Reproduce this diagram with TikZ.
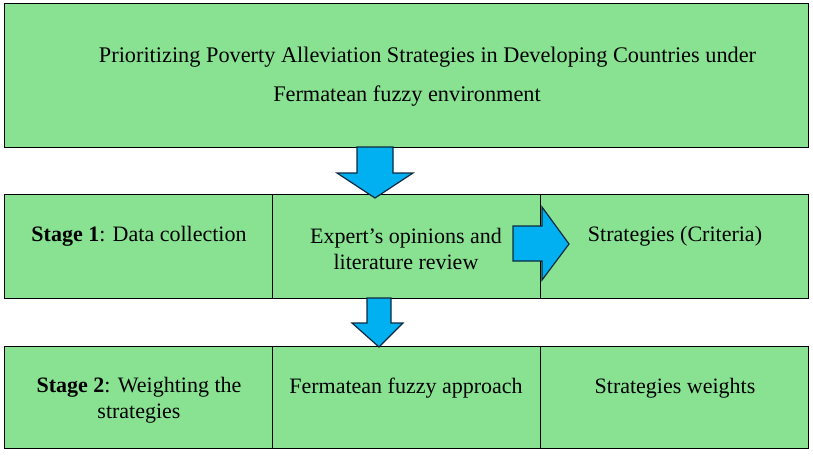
\documentclass[tikz,border=0pt]{standalone}
\usepackage{fontspec}
\setmainfont{Liberation Serif}
\definecolor{boxgreen}{HTML}{88E291}
\definecolor{arrowblue}{HTML}{00B0F0}
\definecolor{arrowedge}{HTML}{0B2A3F}
\begin{document}
\begin{tikzpicture}[x=1pt,y=-1pt,
  cell/.style={draw=black,line width=0.8pt,fill=boxgreen},
  lbl/.style={font=\fontsize{22}{26}\selectfont,align=center,inner sep=0pt},
  ttl/.style={font=\fontsize{22.3}{26}\selectfont,inner sep=0pt},
  blockarrow/.style={fill=arrowblue,draw=arrowedge,line width=1.2pt,line join=miter}]
\useasboundingbox (0,0) rectangle (813,456);
% boxes
\draw[cell] (4,3) rectangle (808,147);
\draw[cell] (4,194) rectangle (272,298);
\draw[cell] (272,194) rectangle (540,298);
\draw[cell] (540,194) rectangle (808,298);
\draw[cell] (4,346) rectangle (272,448);
\draw[cell] (272,346) rectangle (540,448);
\draw[cell] (540,346) rectangle (808,448);
% title
\node[ttl] (t1) at (427.5,57) {Prioritizing Poverty Alleviation Strategies in Developing Countries under};
\node[ttl] (t2) at (407,96) {Fermatean fuzzy environment};
% row 1
\node[lbl] (s1) at (139,236) {\textbf{Stage 1}: Data collection};
\node[lbl] (ex) at (406,249) {Expert’s opinions and\\literature review};
\node[lbl] (sc) at (675,236) {Strategies (Criteria)};
% row 2
\node[lbl] (s2) at (139,400) {\textbf{Stage 2}: Weighting the\\strategies};
\node[lbl] (fa) at (406,388) {Fermatean fuzzy approach};
\node[lbl] (sw) at (675,388) {Strategies weights};
% arrows
\draw[blockarrow] (357,147) -- (393,147) -- (393,173) -- (413,173) -- (375,198) -- (337,173) -- (357,173) -- cycle;
\draw[blockarrow] (513,226) -- (542,226) -- (542,207) -- (569,244) -- (542,280) -- (542,261) -- (513,261) -- cycle;
\draw[blockarrow] (367,298) -- (391,298) -- (391,323) -- (403,323) -- (379,347) -- (352,323) -- (367,323) -- cycle;
\end{tikzpicture}
\end{document}
